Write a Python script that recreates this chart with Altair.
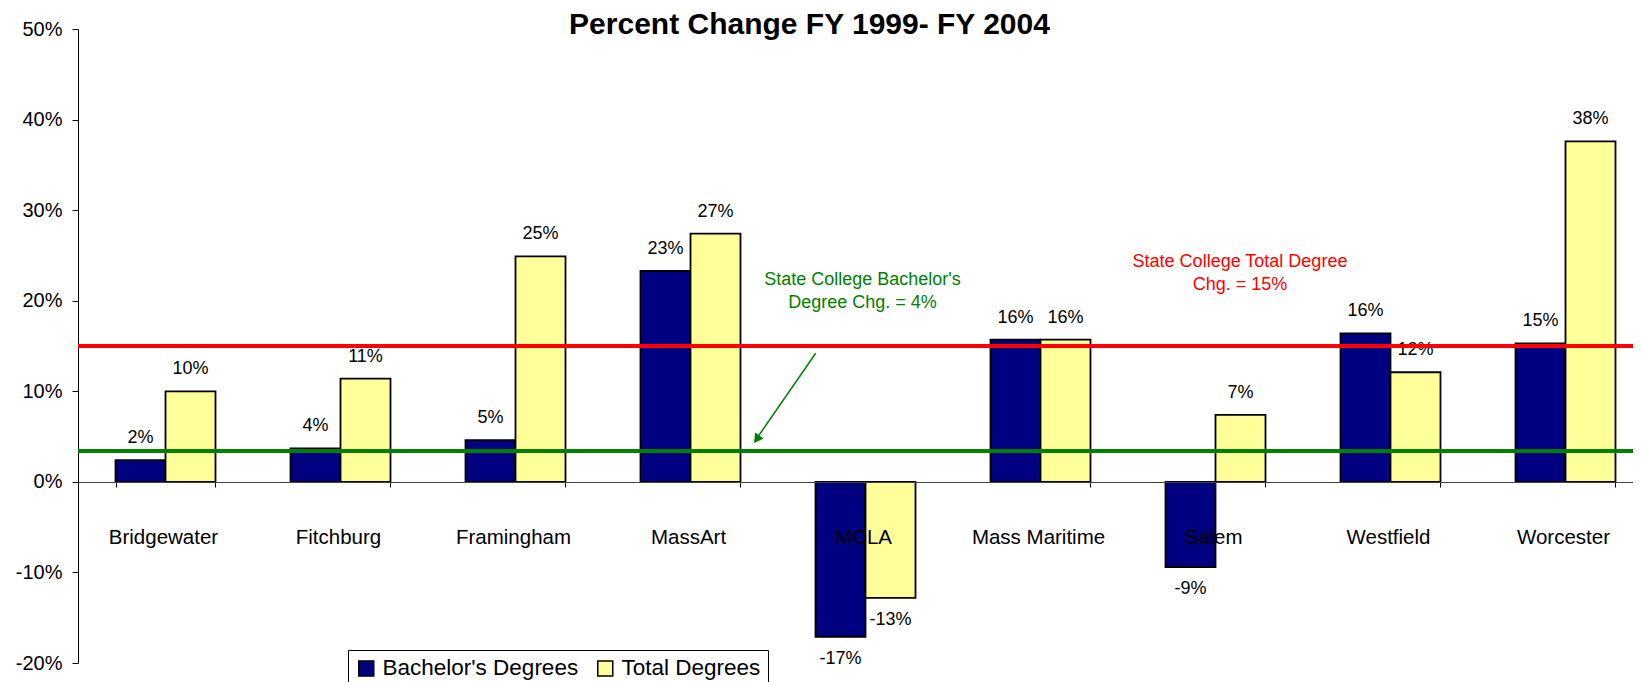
import altair as alt
import pandas as pd

colleges = ["Bridgewater", "Fitchburg", "Framingham", "MassArt", "MCLA",
            "Mass Maritime", "Salem", "Westfield", "Worcester"]
series = ["Bachelor's Degrees", "Total Degrees"]
bachelors = [0.024, 0.037, 0.046, 0.233, -0.171, 0.157, -0.094, 0.164, 0.153]
totals = [0.100, 0.114, 0.249, 0.274, -0.128, 0.157, 0.074, 0.121, 0.376]
y_ticks = [-0.2, -0.1, 0.0, 0.1, 0.2, 0.3, 0.4, 0.5]
bach_avg = 0.034
total_avg = 0.15

rows = []
for c, b, t in zip(colleges, bachelors, totals):
    rows.append({"college": c, "series": series[0], "value": b})
    rows.append({"college": c, "series": series[1], "value": t})
df = pd.DataFrame(rows)

FONT = "Liberation Sans"
W, H = 1555, 634
one = alt.Data(values=[{}])
PCT = "(datum.value < 0 ? '-' : '') + format(abs(datum.value), '.0%')"

x_enc = alt.X(
    "college:N", sort=colleges, title=None,
    scale=alt.Scale(range=[0, 1575], paddingInner=0.4286, paddingOuter=0.2143),
    axis=alt.Axis(orient="bottom", offset=-181, tickBand="extent", tickSize=5,
                  tickColor="#000000", domainColor="#444444", domainWidth=1,
                  labelAngle=0, labelFont=FONT, labelFontSize=20.5,
                  labelColor="#000000", labelPadding=50, labelBaseline="middle",
                  labelOffset=-2.5, zindex=1),
)
xoff = alt.XOffset("series:N", sort=series,
                   scale=alt.Scale(paddingInner=0, paddingOuter=0))
y_enc = alt.Y(
    "value:Q", title=None,
    scale=alt.Scale(domain=[-0.2, 0.5], nice=False, zero=False),
    axis=alt.Axis(values=y_ticks, labelExpr=PCT, grid=False, tickSize=6,
                  tickColor="#000000", domainColor="#000000",
                  labelFont=FONT, labelFontSize=20, labelColor="#000000",
                  labelPadding=10),
)
color = alt.Color(
    "series:N", sort=series, title=None,
    scale=alt.Scale(domain=series, range=["#000080", "#FFFF99"]),
    legend=alt.Legend(orient="none", legendX=270, legendY=621,
                      direction="horizontal", columns=2, symbolType="square",
                      symbolSize=225, symbolStrokeColor="#000000",
                      symbolStrokeWidth=1.5, labelFont=FONT, labelFontSize=22.5,
                      labelColor="#000000", labelOffset=5, columnPadding=15,
                      labelLimit=0, padding=7, fillColor="#FFFFFF",
                      strokeColor="#000000"),
)

base = alt.Chart(df).transform_calculate(label=PCT)
bars = base.mark_bar(stroke="#000000", strokeWidth=1.8).encode(
    x=x_enc, xOffset=xoff, y=y_enc, color=color)

pos_labels = base.transform_filter("datum.value >= 0").mark_text(
    font=FONT, fontSize=18, color="#000000", baseline="middle", dy=-22
).encode(x=alt.X("college:N", sort=colleges), xOffset=xoff, y="value:Q",
         text="label:N")
neg_labels = base.transform_filter("datum.value < 0").mark_text(
    font=FONT, fontSize=18, color="#000000", baseline="middle", dy=22
).encode(x=alt.X("college:N", sort=colleges), xOffset=xoff, y="value:Q",
         text="label:N")

red_line = alt.Chart(one).mark_rule(color="#FF0000", strokeWidth=4).encode(
    y=alt.datum(total_avg))
green_line = alt.Chart(one).mark_rule(color="#008000", strokeWidth=4).encode(
    y=alt.datum(bach_avg))

def note(text, x, y, col):
    return alt.Chart(one).mark_text(font=FONT, fontSize=18, color=col,
                                    align="center", baseline="middle").encode(
        x=alt.value(x), y=alt.value(y), text=alt.value(text))

notes = [
    note("State College Bachelor's", 784.5, 251, "#008000"),
    note("Degree Chg. = 4%", 784.5, 274.3, "#008000"),
    note("State College Total Degree", 1162, 232.7, "#FF0000"),
    note("Chg. = 15%", 1162, 256, "#FF0000"),
]
arrow_line = alt.Chart(one).mark_rule(color="#008000", strokeWidth=1.5).encode(
    x=alt.value(737.7), y=alt.value(324.3), x2=alt.value(677), y2=alt.value(412))
arrow_head = alt.Chart(one).mark_point(
    shape="triangle", filled=True, color="#008000", opacity=1, angle=215,
    size=110).encode(x=alt.value(679.6), y=alt.value(409))

chart = alt.layer(bars, pos_labels, neg_labels, red_line, green_line,
                  *notes, arrow_line, arrow_head).properties(
    width=W, height=H,
    title=alt.TitleParams("Percent Change FY 1999- FY 2004", font=FONT,
                          fontSize=30, fontWeight="bold", color="#000000",
                          anchor="middle", frame="group", dx=-46, dy=25,
                          baseline="alphabetic", offset=-20),
    padding={"left": 70, "top": 21, "right": 0, "bottom": 19},
    autosize=alt.AutoSizeParams(type="none"),
    background="#FFFFFF",
).configure_view(stroke=None)

chart.save("out.html", embed_options={"renderer": "svg", "actions": False})
